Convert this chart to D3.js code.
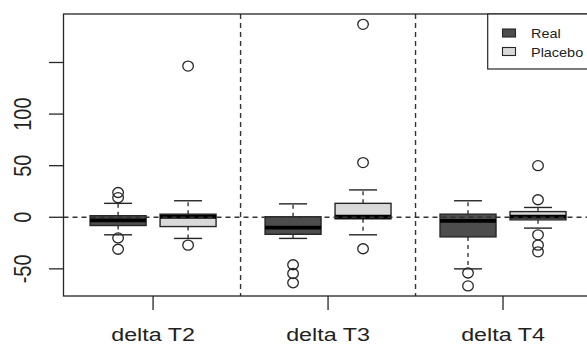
<!DOCTYPE html>
<html>
<head>
<meta charset="utf-8">
<script src="https://cdn.jsdelivr.net/npm/d3@7"></script>
<style>
  html, body { margin: 0; padding: 0; background: #fff; }
  svg { display: block; }
  text { font-family: "Liberation Sans", Arial, Helvetica, sans-serif; fill: #222; }
</style>
</head>
<body>
<svg id="chart" width="587" height="345"></svg>
<script>
// ---- data ----
const groups = ["delta T2", "delta T3", "delta T4"];
const seriesNames = ["Real", "Placebo"];
const seriesColors = ["#4d4d4d", "#d9d9d9"];
// stats per box: [lower whisker, Q1, median, Q3, upper whisker]
const realStats = [
  [-17, -8, -3, 1.5, 13.5],
  [-20.5, -16.5, -10, 0.5, 13],
  [-50, -19, -3.5, 3, 16]
];
const placeboStats = [
  [-20.5, -9, 0.5, 3, 16],
  [-17, -1.5, 0.5, 13.5, 26.5],
  [-10.5, -2.5, 0.5, 5.5, 9.5]
];
const realOutliers = [[24, 19, -20, -31], [-46, -54.5, -63.5], [-54, -66.5]];
const placeboOutliers = [[146.5, -27], [187, 53, -30.5], [50, 17, -17, -27, -33.5]];
const boxPositions = [[1, 2], [3.5, 4.5], [6, 7]];
const groupPositions = [1.5, 4, 6.5];
const separators = [2.75, 5.25];
const yTicks = [-50, 0, 50, 100, 150];
const yTickLabels = ["-50", "0", "50", "100", ""];

// ---- layout ----
const svg = d3.select("#chart");
const plot = { left: 63.5, top: 14, bottom: 296 };
const x = d3.scaleLinear().domain([0.22, 7.78]).range([63.5, 592.6]);
const y = d3.scaleLinear().domain([-76.3, 197]).range([296, 14]);
const boxW = 0.8;
const ink = "#262626";

const statsBySeries = [realStats, placeboStats];
const outBySeries = [realOutliers, placeboOutliers];

const boxes = [];
groups.forEach((g, gi) => {
  seriesNames.forEach((s, si) => {
    boxes.push({ pos: boxPositions[gi][si], st: statsBySeries[si][gi], out: outBySeries[si][gi], color: seriesColors[si] });
  });
});

const gBox = svg.append("g");
boxes.forEach(b => {
  const cx = x(b.pos);
  const hw = (x(b.pos + boxW / 2) - x(b.pos - boxW / 2)) / 2;
  const sw = hw / 2;
  const [lo, q1, med, q3, hi] = b.st;
  // whiskers (dashed)
  gBox.append("line").attr("x1", cx).attr("x2", cx).attr("y1", y(q3)).attr("y2", y(hi))
    .attr("stroke", ink).attr("stroke-width", 1.3).attr("stroke-dasharray", "4,4");
  gBox.append("line").attr("x1", cx).attr("x2", cx).attr("y1", y(q1)).attr("y2", y(lo))
    .attr("stroke", ink).attr("stroke-width", 1.3).attr("stroke-dasharray", "4,4");
  // staples
  [lo, hi].forEach(v => {
    gBox.append("line").attr("x1", cx - sw).attr("x2", cx + sw).attr("y1", y(v)).attr("y2", y(v))
      .attr("stroke", ink).attr("stroke-width", 1.4);
  });
  // box
  gBox.append("rect").attr("x", cx - hw).attr("y", y(q3)).attr("width", 2 * hw).attr("height", y(q1) - y(q3))
    .attr("fill", b.color).attr("stroke", ink).attr("stroke-width", 1.4);
  // median
  gBox.append("line").attr("x1", cx - hw).attr("x2", cx + hw).attr("y1", y(med)).attr("y2", y(med))
    .attr("stroke", "#000").attr("stroke-width", 3.8);
  // outliers
  b.out.forEach(v => {
    gBox.append("ellipse").attr("cx", cx).attr("cy", y(v)).attr("rx", 5.3).attr("ry", 5)
      .attr("fill", "none").attr("stroke", ink).attr("stroke-width", 1.3);
  });
});

// reference dashed lines
svg.append("line").attr("x1", plot.left).attr("x2", 592).attr("y1", y(0)).attr("y2", y(0))
  .attr("stroke", "#333").attr("stroke-width", 1.4).attr("stroke-dasharray", "5,4");
separators.forEach(p => {
  svg.append("line").attr("x1", x(p)).attr("x2", x(p)).attr("y1", plot.top).attr("y2", plot.bottom)
    .attr("stroke", "#333").attr("stroke-width", 1.4).attr("stroke-dasharray", "5,4");
});

// frame
svg.append("rect").attr("x", plot.left).attr("y", plot.top).attr("width", 592.6 - plot.left)
  .attr("height", plot.bottom - plot.top).attr("fill", "none").attr("stroke", ink).attr("stroke-width", 1.3);

// y axis
const gy = svg.append("g");
yTicks.forEach((t, i) => {
  gy.append("line").attr("x1", 49).attr("x2", plot.left).attr("y1", y(t)).attr("y2", y(t))
    .attr("stroke", ink).attr("stroke-width", 1.3);
  if (yTickLabels[i]) {
    gy.append("text").attr("transform", `translate(31,${y(t)}) scale(1.2,1) rotate(-90)`)
      .attr("text-anchor", "middle").attr("font-size", 20).text(yTickLabels[i]);
  }
});

// x axis
const gx = svg.append("g");
groupPositions.forEach((p, i) => {
  gx.append("line").attr("x1", x(p)).attr("x2", x(p)).attr("y1", plot.bottom).attr("y2", 310)
    .attr("stroke", ink).attr("stroke-width", 1.3);
  gx.append("text").attr("transform", `translate(${x(p)},340.5) scale(1.26,1)`)
    .attr("text-anchor", "middle").attr("font-size", 18.5).text(groups[i]);
});

// legend
const lg = svg.append("g");
lg.append("rect").attr("x", 487.7).attr("y", 14).attr("width", 120).attr("height", 55)
  .attr("fill", "#fff").attr("stroke", ink).attr("stroke-width", 1.2);
seriesNames.forEach((s, i) => {
  const yy = [33, 51.5][i];
  lg.append("rect").attr("x", 502.5).attr("y", yy - 4).attr("width", 13).attr("height", 8)
    .attr("fill", seriesColors[i]).attr("stroke", ink).attr("stroke-width", 1.1);
  lg.append("text").attr("transform", `translate(531,${yy + 5}) scale(1.07,1)`)
    .attr("font-size", 13.5).text(s);
});
</script>
</body>
</html>
